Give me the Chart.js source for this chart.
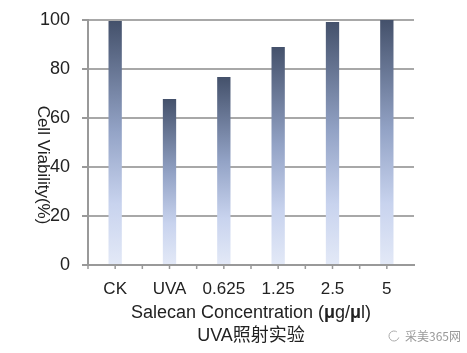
<!DOCTYPE html>
<html><head><meta charset="utf-8">
<script src="https://cdn.jsdelivr.net/npm/chart.js@4"></script>
<style>html,body{margin:0;padding:0;background:#fff}#wrap{width:467px;height:353px}</style>
</head><body><div id="wrap"><canvas id="c" width="467" height="353"></canvas></div>
<script>
const categories = ['CK', 'UVA', '0.625', '1.25', '2.5', '5'];
const viability = [99.6, 67.8, 76.7, 89, 99.2, 100];
const xTitleParts = [['Salecan Concentration (', false], ['μ', true], ['g/', false], ['μ', true], ['l)', false]];
const xSubTitle = 'UVA照射实验';
const yTitle = 'Cell Viability(%)';
const watermark = '采美365网';

const FONT = '"Liberation Sans", Arial, sans-serif';

const extras = {
  id: 'extras',
  afterDraw(chart) {
    const ctx = chart.ctx, x = chart.scales.x, y = chart.scales.y;
    ctx.save();
    ctx.strokeStyle = '#999'; ctx.lineWidth = 1.5;
    const base = y.getPixelForValue(0);
    const half = (x.getPixelForValue(1) - x.getPixelForValue(0)) / 2;
    for (let i = 0; i < categories.length; i++) {
      const c = x.getPixelForValue(i);
      [c - half, c].forEach(px => { ctx.beginPath(); ctx.moveTo(px, base); ctx.lineTo(px, base + 4); ctx.stroke(); });
    }
    ctx.fillStyle = '#222';
    ctx.font = '17px ' + FONT;
    ctx.translate(43, 165);
    ctx.rotate(Math.PI / 2);
    ctx.textAlign = 'center'; ctx.textBaseline = 'middle';
    ctx.fillText(yTitle, 0, 0);
    ctx.restore();

    ctx.save();
    ctx.fillStyle = '#222';
    ctx.textBaseline = 'middle';
    const cx = (chart.chartArea.left + chart.chartArea.right) / 2;
    const fs = '18px ';
    let total = 0;
    xTitleParts.forEach(([t, b]) => { ctx.font = (b ? 'bold ' : '') + fs + FONT; total += ctx.measureText(t).width; });
    let px = cx - total / 2;
    ctx.textAlign = 'left';
    xTitleParts.forEach(([t, b]) => { ctx.font = (b ? 'bold ' : '') + fs + FONT; ctx.fillText(t, px, 313); px += ctx.measureText(t).width; });
    ctx.textAlign = 'center';
    ctx.font = '18px ' + FONT + ', "Noto Sans CJK SC"';
    ctx.fillText(xSubTitle, cx, 336);
    ctx.fillStyle = '#999';
    ctx.font = '12px "Noto Sans CJK SC", sans-serif';
    ctx.textAlign = 'left';
    ctx.fillText(watermark, 405, 336);
    ctx.strokeStyle = '#aaa'; ctx.lineWidth = 1;
    ctx.beginPath(); ctx.arc(394, 336, 5, 0.3, Math.PI * 1.7); ctx.stroke();
    ctx.restore();
  }
};

new Chart(document.getElementById('c'), {
  type: 'bar',
  data: {
    labels: categories,
    datasets: [{
      data: viability,
      backgroundColor(ctx) {
        const chart = ctx.chart;
        if (!chart.chartArea || !chart.scales.y) return '#8a99bb';
        const y = chart.scales.y;
        const top = y.getPixelForValue(ctx.raw);
        const bot = y.getPixelForValue(0);
        const g = chart.ctx.createLinearGradient(0, top, 0, bot);
        g.addColorStop(0, '#44516b');
        g.addColorStop(0.45, '#93a3c6');
        g.addColorStop(0.75, '#c8d3ee');
        g.addColorStop(1, '#e3e9f7');
        return g;
      },
      borderWidth: 0,
      barPercentage: 0.245,
      categoryPercentage: 1
    }]
  },
  options: {
    responsive: false,
    animation: false,
    layout: { padding: { top: 20, right: 53, left: 0, bottom: 0 } },
    plugins: { legend: { display: false }, tooltip: { enabled: false } },
    scales: {
      x: {
        offset: true,
        grid: { display: false },
        border: { color: '#999', width: 2 },
        ticks: { color: '#222', font: { family: FONT, size: 17 }, padding: 6, maxRotation: 0 },
        afterFit(s) { s.height = 88; s.paddingLeft = 0; s.paddingRight = 0; }
      },
      y: {
        min: 0, max: 100,
        ticks: {
          stepSize: 10,
          color: '#222',
          font: { family: FONT, size: 18 },
          padding: 12,
          callback: v => (v % 20 === 0 ? v : '')
        },
        grid: {
          color: '#a8a8a8', lineWidth: 2,
          tickLength: 6,
          tickColor: c => (c.tick && c.tick.value % 20 === 0 ? '#999' : 'rgba(0,0,0,0)')
        },
        border: { color: '#999', width: 2 },
        afterFit(s) { s.width = 88; s.paddingTop = 0; s.paddingBottom = 0; }
      }
    }
  },
  plugins: [extras]
});
</script></body></html>
